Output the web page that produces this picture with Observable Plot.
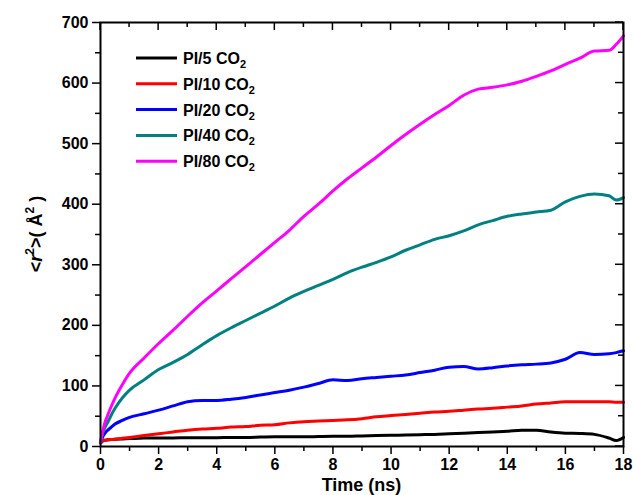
<!DOCTYPE html>
<html>
<head>
<meta charset="utf-8">
<script src="https://cdn.jsdelivr.net/npm/d3@7"></script>
<script src="https://cdn.jsdelivr.net/npm/@observablehq/plot@0.6"></script>
<style>
  html, body { margin: 0; padding: 0; background: #fff; }
  #chart { position: relative; width: 633px; height: 495px; }
</style>
</head>
<body>
<div id="chart"></div>
<script>
const time = [0, 0.05, 0.1, 0.17, 0.25, 0.35, 0.5, 0.75, 1, 1.5, 2, 2.5, 3, 3.5, 4, 4.5, 5, 5.5, 6, 6.5, 7, 7.5, 8, 8.5, 9, 9.5, 10, 10.5, 11, 11.5, 12, 12.5, 13, 13.5, 14, 14.5, 15, 15.5, 16, 16.5, 17, 17.5, 17.75, 18];
const pi5  = [6, 8, 10, 10.5, 11, 11.5, 12, 12.5, 13, 14, 14, 14, 14.5, 14.5, 14.5, 15, 15, 15.5, 16, 16, 16, 16.5, 17, 17, 17.5, 18, 18.5, 19, 19.5, 20, 21, 22, 23, 24, 25, 27, 27, 24, 22, 21.5, 20, 14, 10, 15];
const pi10 = [6, 8, 10, 10.5, 11, 11.5, 12, 13.5, 15, 18, 21, 24, 27, 29, 30, 32, 33, 35, 36, 39, 41, 42, 43, 44, 46, 49, 51, 53, 55, 57, 58, 60, 62, 63, 65, 67, 70, 72, 74, 74, 74, 74, 73, 73];
const pi20 = [6, 13, 18, 23, 27, 31, 37, 43, 48, 54, 60, 67, 74, 76, 76, 78, 81, 85, 89, 93, 98, 104, 110, 109, 112, 114, 116, 118, 122, 126, 131, 132, 128, 130, 133, 135, 136, 138, 144, 155, 152, 153, 155, 158];
const pi40 = [6, 17, 25, 33, 40, 50, 63, 80, 93, 110, 127, 139, 152, 168, 183, 196, 208, 220, 232, 245, 256, 266, 276, 287, 296, 304, 313, 324, 333, 342, 348, 356, 366, 373, 380, 384, 387, 390, 404, 413, 417, 414, 407, 411];
const pi80 = [6, 20, 30, 42, 52, 64, 80, 102, 121, 146, 170, 192, 215, 237, 257, 277, 297, 317, 337, 357, 380, 400, 422, 442, 460, 478, 497, 515, 532, 548, 563, 580, 590, 593, 597, 603, 611, 620, 631, 641, 653, 654, 664, 678];

const seriesNames = ["PI/5 CO2", "PI/10 CO2", "PI/20 CO2", "PI/40 CO2", "PI/80 CO2"];
const seriesLabels = ["PI/5", "PI/10", "PI/20", "PI/40", "PI/80"];
const seriesColors = ["#000000", "#ff0000", "#0000ff", "#008080", "#ff00ff"];
const seriesValues = [pi5, pi10, pi20, pi40, pi80];

const xMajor = [0, 2, 4, 6, 8, 10, 12, 14, 16, 18];
const xMinor = [1, 3, 5, 7, 9, 11, 13, 15, 17];
const yMajor = [0, 100, 200, 300, 400, 500, 600, 700];
const yMinor = [50, 150, 250, 350, 450, 550, 650];

const rows = [];
seriesValues.forEach((vals, i) => {
  vals.forEach((v, j) => rows.push({series: seriesNames[i], t: time[j], v}));
});

const W = 633, H = 495, mL = 100, mR = 10, mT = 22, mB = 49;
const pw = W - mL - mR, ph = H - mT - mB;

const chart = Plot.plot({
  width: W, height: H,
  marginLeft: mL, marginRight: mR, marginTop: mT, marginBottom: mB,
  style: {fontFamily: "'Liberation Sans', Arial, sans-serif", fontWeight: "bold", fontSize: "16px", color: "#000", background: "#fff"},
  x: {domain: [0, 18]},
  y: {domain: [0, 700]},
  color: {domain: seriesNames, range: seriesColors},
  marks: [
    Plot.line(rows, {x: "t", y: "v", stroke: "series", z: "series", strokeWidth: 3, strokeLinejoin: "round", curve: "monotone-x"}),
    Plot.axisX(xMajor, {tickSize: 8, tickPadding: 4, strokeWidth: 1.5, label: null, fontWeight: "bold", fontSize: 16}),
    Plot.axisX(xMinor, {tickSize: 5, strokeWidth: 1.5, text: null, label: null}),
    Plot.axisY(yMajor, {tickSize: 8, tickPadding: 4, strokeWidth: 1.5, label: null, fontWeight: "bold", fontSize: 16}),
    Plot.axisY(yMinor, {tickSize: 5, strokeWidth: 1.5, text: null, label: null}),
    Plot.frame({stroke: "#000", strokeWidth: 2})
  ]
});

document.getElementById("chart").appendChild(chart);

const svg = d3.select(chart);
const sx = chart.scale("x"), sy = chart.scale("y");

// inward ticks on top and right edges, positioned with Plot's scales
const tk = svg.append("g");
function tick(x1, y1, x2, y2) {
  tk.append("line").attr("x1", x1).attr("y1", y1).attr("x2", x2).attr("y2", y2)
    .style("stroke", "#000").style("stroke-width", "1.5px");
}
xMajor.forEach(v => tick(sx.apply(v), mT, sx.apply(v), mT + 8));
xMinor.forEach(v => tick(sx.apply(v), mT, sx.apply(v), mT + 5));
yMajor.forEach(v => tick(W - mR, sy.apply(v), W - mR - 8, sy.apply(v)));
yMinor.forEach(v => tick(W - mR, sy.apply(v), W - mR - 5, sy.apply(v)));

// x axis title
svg.append("text")
  .attr("x", mL + pw / 2).attr("y", 491)
  .attr("text-anchor", "middle")
  .style("font", "bold 18px 'Liberation Sans', Arial, sans-serif")
  .attr("fill", "#000")
  .text("Time (ns)");

// y axis title
const yt = svg.append("text")
  .attr("transform", `translate(42,${mT + ph / 2}) rotate(-90)`)
  .attr("text-anchor", "middle")
  .style("font", "bold 18px 'Liberation Sans', Arial, sans-serif")
  .attr("fill", "#000");
yt.append("tspan").text("<");
yt.append("tspan").style("font-style", "italic").text("r");
yt.append("tspan").attr("dy", -8).style("font-size", "12px").text("2");
yt.append("tspan").attr("dy", 8).text(">( \u00c5");
yt.append("tspan").attr("dy", -8).style("font-size", "12px").text("2");
yt.append("tspan").attr("dy", 8).text(" )");

// legend
const lg = svg.append("g").attr("class", "legend").attr("text-anchor", "start");
seriesNames.forEach((name, i) => {
  const cy = 58 + i * 25.8;
  lg.append("line").attr("x1", 136).attr("x2", 177).attr("y1", cy).attr("y2", cy)
    .style("stroke", seriesColors[i]).style("stroke-width", "3px");
  const t = lg.append("text").attr("x", 183).attr("y", cy + 6)
    .attr("text-anchor", "start")
    .style("font", "bold 16px 'Liberation Sans', Arial, sans-serif").attr("fill", "#000");
  t.append("tspan").text(seriesLabels[i] + " CO");
  t.append("tspan").attr("dy", 4).style("font-size", "11px").text("2");
});
</script>
</body>
</html>
